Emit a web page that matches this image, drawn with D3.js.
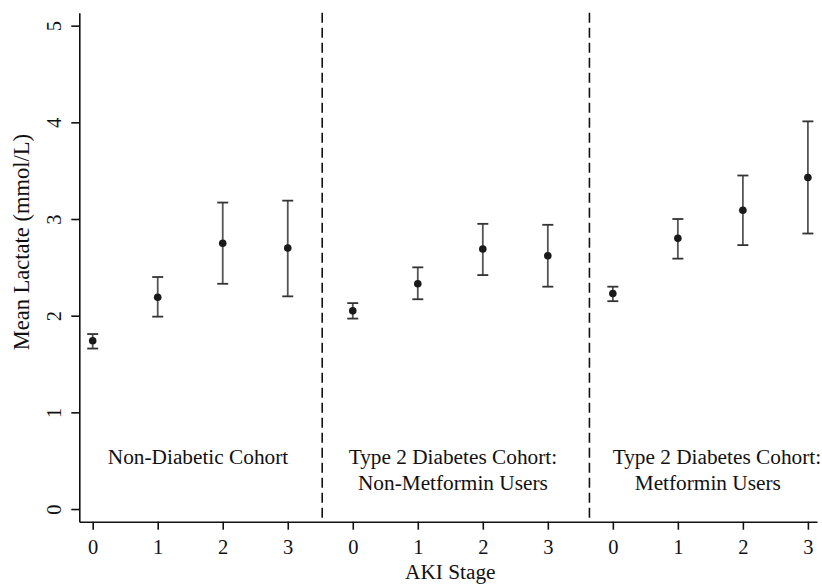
<!DOCTYPE html>
<html>
<head>
<meta charset="utf-8">
<script src="https://cdn.jsdelivr.net/npm/d3@7"></script>
<style>
  html, body { margin: 0; padding: 0; background: #fff; }
  svg { display: block; }
  text { font-family: "Liberation Serif", "DejaVu Serif", serif; fill: #111; }
</style>
</head>
<body>
<svg id="chart" width="822" height="585"></svg>
<script>
// ---- data ----
const cohorts = ["Non-Diabetic Cohort", "Type 2 Diabetes Cohort: Non-Metformin Users", "Type 2 Diabetes Cohort: Metformin Users"];
const stages = [0, 1, 2, 3];
const meanNonDiabetic = [1.74, 2.19, 2.75, 2.70];
const lowerNonDiabetic = [1.66, 1.99, 2.33, 2.20];
const upperNonDiabetic = [1.81, 2.40, 3.17, 3.19];
const meanNonMetformin = [2.05, 2.33, 2.69, 2.62];
const lowerNonMetformin = [1.97, 2.17, 2.42, 2.30];
const upperNonMetformin = [2.13, 2.50, 2.95, 2.94];
const meanMetformin = [2.23, 2.80, 3.09, 3.43];
const lowerMetformin = [2.15, 2.59, 2.73, 2.85];
const upperMetformin = [2.30, 3.00, 3.45, 4.01];
const yTicks = [0, 1, 2, 3, 4, 5];
const cohortLabelLines = [["Non-Diabetic Cohort"], ["Type 2 Diabetes Cohort:", "Non-Metformin Users"], ["Type 2 Diabetes Cohort:", "Metformin Users"]];
const cohortLabelX = [[1.62], [5.54, 5.54], [9.60, 9.46]];   // position of each line on the stage axis
const cohortLabelY = [0.54, 0.27];                              // line 1, line 2 (mmol/L units)
const dividerX = [3.53, 7.64];
const xTitle = "AKI Stage";
const yTitle = "Mean Lactate (mmol/L)";

const series = [
  { mean: meanNonDiabetic, lo: lowerNonDiabetic, hi: upperNonDiabetic },
  { mean: meanNonMetformin, lo: lowerNonMetformin, hi: upperNonMetformin },
  { mean: meanMetformin, lo: lowerMetformin, hi: upperMetformin }
];
const points = [];
series.forEach((s, c) => stages.forEach((st, i) => {
  points.push({ pos: c * stages.length + i, stage: st, mean: s.mean[i], lo: s.lo[i], hi: s.hi[i] });
}));

// ---- scales ----
const svg = d3.select("#chart");
const x = d3.scaleLinear().domain([-0.206, 11.14]).range([79.3, 817]);
const y = d3.scaleLinear().domain([-0.131, 5.134]).range([521.7, 12.7]);

const tickFont = 20.5;
const labelFont = 21.3;

// axes
const xAxis = d3.axisBottom(x)
  .tickValues(d3.range(cohorts.length * stages.length))
  .tickFormat(d => stages[d % stages.length])
  .tickSizeOuter(0).tickSizeInner(8).tickPadding(0);
const gx = svg.append("g").attr("transform", `translate(0,${y.range()[0]})`).call(xAxis);
gx.select(".domain").attr("stroke", "#111").attr("stroke-width", 1.6);
gx.selectAll(".tick line").attr("stroke", "#111").attr("stroke-width", 1.6);
gx.selectAll(".tick text").style("font-size", tickFont + "px").style("font-family", "Liberation Serif")
  .attr("fill", "#111").attr("dy", null).attr("y", 25.5).attr("dominant-baseline", "central");

const yAxis = d3.axisLeft(y).tickValues(yTicks).tickFormat(d3.format("d")).tickSizeOuter(0).tickSizeInner(8).tickPadding(8);
const gy = svg.append("g").attr("transform", `translate(${x.range()[0]},0)`).call(yAxis);
gy.select(".domain").attr("stroke", "#111").attr("stroke-width", 1.6);
gy.selectAll(".tick line").attr("stroke", "#111").attr("stroke-width", 1.6);
gy.selectAll(".tick text")
  .style("font-size", tickFont + "px").style("font-family", "Liberation Serif").attr("fill", "#111")
  .attr("text-anchor", "middle").attr("dy", null)
  .attr("transform", "translate(-25.5,0) rotate(-90)")
  .attr("x", 0).attr("y", 0).attr("dominant-baseline", "central");

// dividers
svg.append("g").selectAll("line").data(dividerX).join("line")
  .attr("x1", d => x(d)).attr("x2", d => x(d))
  .attr("y1", y.range()[1]).attr("y2", y.range()[0] - 3)
  .attr("stroke", "#111").attr("stroke-width", 1.6)
  .attr("stroke-dasharray", "10,5");

// error bars
const capHalf = 5.5;
const eb = svg.append("g");
eb.selectAll("line.v").data(points).join("line").attr("class", "v")
  .attr("x1", d => x(d.pos)).attr("x2", d => x(d.pos))
  .attr("y1", d => y(d.lo)).attr("y2", d => y(d.hi))
  .attr("stroke", "#555").attr("stroke-width", 1.8);
eb.selectAll("line.top").data(points).join("line").attr("class", "top")
  .attr("x1", d => x(d.pos) - capHalf).attr("x2", d => x(d.pos) + capHalf)
  .attr("y1", d => y(d.hi)).attr("y2", d => y(d.hi))
  .attr("stroke", "#333").attr("stroke-width", 1.8);
eb.selectAll("line.bot").data(points).join("line").attr("class", "bot")
  .attr("x1", d => x(d.pos) - capHalf).attr("x2", d => x(d.pos) + capHalf)
  .attr("y1", d => y(d.lo)).attr("y2", d => y(d.lo))
  .attr("stroke", "#333").attr("stroke-width", 1.8);

// dots
svg.append("g").selectAll("circle").data(points).join("circle")
  .attr("cx", d => x(d.pos)).attr("cy", d => y(d.mean)).attr("r", 3.8)
  .attr("fill", "#1a1a1a");

// cohort labels
const lab = svg.append("g");
cohortLabelLines.forEach((lines, c) => {
  lines.forEach((ln, j) => {
    lab.append("text")
      .attr("x", x(cohortLabelX[c][j])).attr("y", y(cohortLabelY[j]))
      .attr("text-anchor", "middle").attr("dominant-baseline", "central")
      .style("font-size", labelFont + "px").text(ln);
  });
});

// titles
svg.append("text").attr("x", x(5.5)).attr("y", 572)
  .attr("text-anchor", "middle").attr("dominant-baseline", "central")
  .style("font-size", labelFont + "px").text(xTitle);
svg.append("text")
  .attr("transform", `translate(21,${y(2.76)}) rotate(-90)`)
  .attr("text-anchor", "middle").attr("dominant-baseline", "central")
  .style("font-size", "22.5px").text(yTitle);
</script>
</body>
</html>
